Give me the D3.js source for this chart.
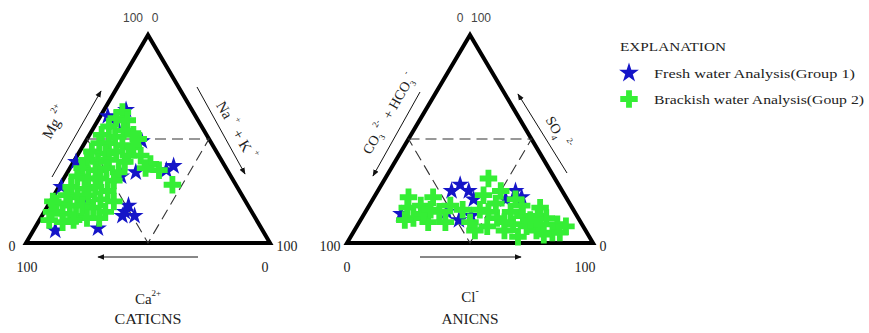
<!DOCTYPE html>
<html>
<head>
<meta charset="utf-8">
<script src="https://cdn.jsdelivr.net/npm/d3@7"></script>
<style>
  body { margin: 0; background: #fff; }
  text { font-family: "Liberation Serif", "Times New Roman", serif; fill: #222; }
</style>
</head>
<body>
<svg id="chart" width="869" height="333"></svg>
<script>
// Cation proportions, % of total meq: [Ca2+, Mg2+, Na+ + K+]
const freshCations = [
  [27, 64, 9], [34, 58, 8], [36, 61, 3], [28, 49, 23], [60, 39, 1],
  [21, 37, 42], [25, 35, 40], [45, 32, 23], [38, 34, 28], [72, 27, 1],
  [52, 15, 33], [49, 13, 38], [54, 13, 33], [49, 18, 33], [67, 7, 26],
  [85, 6, 9], [67, 20, 13]
];
const brackishCations = [
  [29, 63, 8], [33, 60, 7], [29, 59, 12], [38, 56, 6], [33, 54, 13],
  [43, 52, 5], [38, 51, 11], [30, 52, 18], [46, 48, 6], [42, 48, 10],
  [37, 47, 16], [33, 46, 21], [51, 44, 5], [46, 43, 11], [41, 44, 15],
  [37, 42, 21], [32, 42, 26], [55, 40, 5], [51, 39, 10], [46, 40, 14],
  [40, 39, 21], [30, 38, 32], [28, 35, 37], [26, 28, 46], [59, 36, 5],
  [54, 35, 11], [49, 36, 15], [45, 34, 21], [63, 32, 5], [59, 31, 10],
  [54, 31, 15], [49, 30, 21], [68, 27, 5], [63, 26, 11], [58, 27, 15],
  [54, 25, 21], [72, 23, 5], [68, 22, 10], [63, 23, 14], [59, 21, 20],
  [54, 20, 26], [78, 19, 3], [73, 18, 9], [68, 18, 14], [64, 17, 19],
  [60, 15, 25], [82, 15, 3], [78, 14, 8], [73, 13, 14], [69, 12, 19],
  [85, 11, 4], [80, 10, 10], [75, 11, 14], [64, 12, 24], [33, 36, 31],
  [29, 50, 21], [79, 20, 1]
];

// Anion proportions, % of total meq: [CO3 2- + HCO3-, SO4 2-, Cl-]
const freshAnions = [
  [40, 28, 32], [38, 25, 37], [45, 25, 30], [71, 14, 15], [49, 11, 40],
  [43, 13, 44], [38, 21, 41], [19, 25, 56], [18, 22, 60], [25, 21, 54],
  [52, 15, 33]
];
const brackishAnions = [
  [67, 17, 16], [61, 18, 21], [54, 22, 24], [67, 12, 21], [62, 10, 28],
  [55, 15, 30], [71, 11, 18], [49, 18, 33], [45, 16, 39], [62, 14, 24],
  [27, 31, 42], [33, 23, 44], [38, 16, 46], [30, 19, 51], [26, 15, 59],
  [22, 13, 65], [16, 13, 71], [13, 12, 75], [10, 9, 81], [7, 8, 85],
  [29, 3, 68], [20, 6, 74], [33, 6, 61], [39, 8, 53], [14, 5, 81],
  [33, 12, 55], [28, 9, 63], [23, 8, 69], [17, 9, 74], [45, 10, 45],
  [25, 25, 50], [20, 18, 62], [45, 6, 49], [18, 4, 78], [20, 11, 69],
  [31, 10, 59], [11, 5, 84], [35, 15, 50], [21, 21, 58], [58, 16, 26],
  [55, 10, 35], [64, 22, 14], [13, 17, 70]
];

const legendTitle = "EXPLANATION";
const legendLabels = ["Fresh water Analysis(Group 1)", "Brackish water Analysis(Goup 2)"];

const FRESH = "#1515c8";
const BRACKISH = "#35ee35";

const svg = d3.select("#chart");

svg.append("defs").append("marker")
  .attr("id", "head")
  .attr("viewBox", "0 0 10 10")
  .attr("refX", 9).attr("refY", 5)
  .attr("markerWidth", 7).attr("markerHeight", 7)
  .attr("markerUnits", "userSpaceOnUse")
  .attr("orient", "auto")
  .append("path").attr("d", "M0,1 L10,5 L0,9 Z").attr("fill", "#111");

const starPath = d3.symbol(d3.symbolStar, 100)();
const crossPath = d3.symbol(d3.symbolCross, 170)();

// One ternary panel: values are [bottom-left, apex, bottom-right] percentages.
function ternaryPanel(left, right, fresh, brackish) {
  const xs = d3.scaleLinear().domain([0, 100]).range([left, right]);
  const ys = d3.scaleLinear().domain([0, 100]).range([243, 35]);
  const pos = d => [xs(d[2] + d[1] / 2), ys(d[1])];
  const g = svg.append("g");

  // outer triangle
  const corners = [[100, 0, 0], [0, 100, 0], [0, 0, 100]].map(pos);
  g.append("path")
    .attr("d", d3.line()(corners) + "Z")
    .attr("fill", "none").attr("stroke", "#000")
    .attr("stroke-width", 4).attr("stroke-linejoin", "miter");

  // inner dashed triangle through the side midpoints
  const mids = [[50, 50, 0], [0, 50, 50], [50, 0, 50]].map(pos);
  g.append("path")
    .attr("d", d3.line()(mids) + "Z")
    .attr("fill", "none").attr("stroke", "#333")
    .attr("stroke-width", 1.1).attr("stroke-dasharray", "11,6");

  g.selectAll("path.fresh").data(fresh).join("path")
    .attr("class", "fresh")
    .attr("d", starPath)
    .attr("transform", d => `translate(${pos(d)})`)
    .attr("fill", FRESH);

  g.selectAll("path.brackish").data(brackish).join("path")
    .attr("class", "brackish")
    .attr("d", crossPath)
    .attr("transform", d => `translate(${pos(d)})`)
    .attr("fill", BRACKISH);

  return g;
}

ternaryPanel(26, 270, freshCations, brackishCations);
ternaryPanel(347, 593, freshAnions, brackishAnions);

function label(x, y, txt, opts = {}) {
  const t = svg.append("text")
    .attr("x", x).attr("y", y)
    .attr("text-anchor", opts.anchor || "middle")
    .attr("font-size", opts.size || 12)
    .style("font-family", opts.family || null)
    .style("fill", opts.fill || null)
    .text(txt);
  if (opts.length) t.attr("textLength", opts.length).attr("lengthAdjust", "spacingAndGlyphs");
  return t;
}

function arrow(x1, y1, x2, y2) {
  svg.append("line")
    .attr("x1", x1).attr("y1", y1).attr("x2", x2).attr("y2", y2)
    .attr("stroke", "#111").attr("stroke-width", 1)
    .attr("marker-end", "url(#head)");
}

// Apex tick labels
const sans = "Liberation Sans, Arial, sans-serif";
label(133, 22, "100", { size: 12, family: sans, fill: "#444" });
label(155, 22, "0", { size: 12, family: sans, fill: "#444" });
label(460, 22, "0", { size: 12, family: sans, fill: "#444" });
label(481, 22, "100", { size: 12, family: sans, fill: "#444" });

// Corner tick labels, cation panel
label(12, 251, "0", { size: 14 });
label(287, 251, "100", { size: 14 });
label(27, 272, "100", { size: 14 });
label(265, 272, "0", { size: 14 });
// Corner tick labels, anion panel
label(330, 251, "100", { size: 14 });
label(603, 251, "0", { size: 14 });
label(347, 272, "0", { size: 14 });
label(585, 272, "100", { size: 14 });

// Axis direction arrows
arrow(198, 257, 98, 257);
arrow(420, 257, 521, 257);
arrow(52, 177, 101, 91);
arrow(197, 87, 245, 174);
arrow(420, 92, 373, 176);
arrow(567, 173, 518, 94);

// Rotated side titles with superscripts
function sideTitle(x, y, angle, parts, size) {
  const t = svg.append("text")
    .attr("transform", `translate(${x},${y}) rotate(${angle})`)
    .attr("text-anchor", "middle")
    .attr("font-size", size);
  parts.forEach(p => {
    const ts = t.append("tspan").text(p.t);
    if (p.sup) ts.attr("font-size", size * 0.62).attr("dy", p.dy);
    else if (p.dy) ts.attr("dy", p.dy);
    if (p.dx) ts.attr("dx", p.dx);
  });
  return t;
}

sideTitle(59, 125, -60, [
  { t: "Mg" }, { t: "2+", sup: true, dy: -9, dx: 4 }
], 15);

sideTitle(232, 133, 60, [
  { t: "Na" }, { t: "+", sup: true, dy: -9, dx: 4 },
  { t: " + K", dy: 9, dx: 2 }, { t: "+", sup: true, dy: -9, dx: 4 }
], 15);

sideTitle(393, 116, -60, [
  { t: "CO" }, { t: "3", sup: true, dy: 4 }, { t: "2-", sup: true, dy: -12, dx: 3 },
  { t: " + HCO", dy: 8, dx: 3 }, { t: "3", sup: true, dy: 4 }, { t: "-", sup: true, dy: -12, dx: 2 }
], 14);

sideTitle(554, 135, 60, [
  { t: "SO" }, { t: "4", sup: true, dy: 4 }, { t: "2-", sup: true, dy: -12, dx: 6 }
], 14);

// Bottom titles
const ca = svg.append("text").attr("x", 148).attr("y", 304)
  .attr("text-anchor", "middle").attr("font-size", 15);
ca.append("tspan").text("Ca");
ca.append("tspan").text("2+").attr("font-size", 9).attr("dy", -8);
label(148, 324, "CATICNS", { size: 14, length: 67 });

const cl = svg.append("text").attr("x", 470).attr("y", 302)
  .attr("text-anchor", "middle").attr("font-size", 15);
cl.append("tspan").text("Cl");
cl.append("tspan").text("-").attr("font-size", 10).attr("dy", -8);
label(470, 324, "ANICNS", { size: 14, length: 57 });

// Legend
label(620, 51, legendTitle, { size: 13, anchor: "start", length: 106 });
svg.append("path").attr("d", starPath)
  .attr("transform", "translate(629,73) scale(1.1)").attr("fill", FRESH);
svg.append("path").attr("d", crossPath)
  .attr("transform", "translate(629,99)").attr("fill", BRACKISH);
label(654, 78, legendLabels[0], { size: 13, anchor: "start", length: 201 });
label(654, 104, legendLabels[1], { size: 13, anchor: "start", length: 210 });
</script>
</body>
</html>
